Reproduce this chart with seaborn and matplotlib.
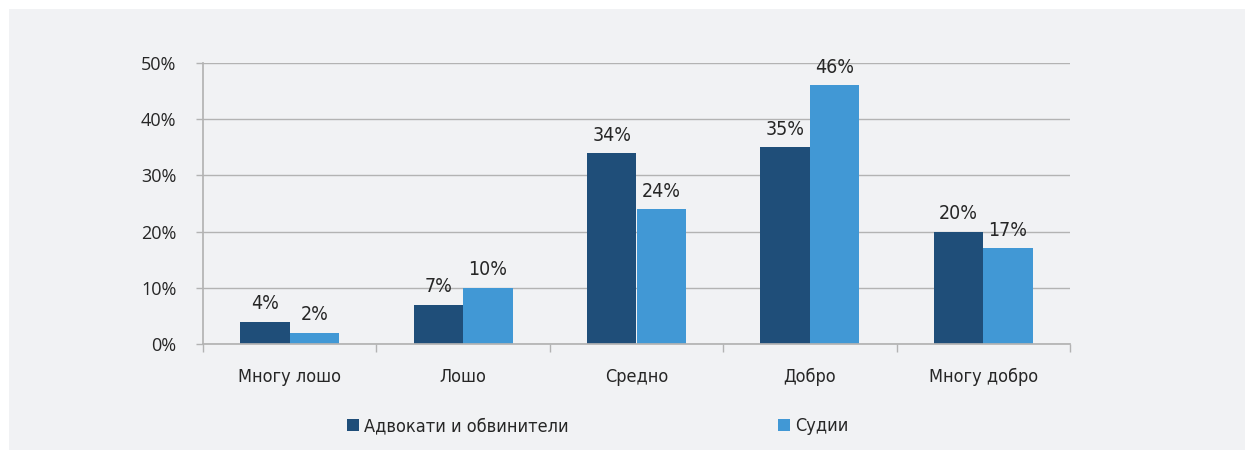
import matplotlib
matplotlib.use("Agg")
import matplotlib.pyplot as plt
from matplotlib import font_manager
from matplotlib.patches import Rectangle
import seaborn as sns
import pandas as pd

categories = ["Многу лошо", "Лошо", "Средно", "Добро", "Многу добро"]
series_names = ["Адвокати и обвинители", "Судии"]
lawyers = [4, 7, 34, 35, 20]
judges = [2, 10, 24, 46, 17]
y_ticks = [0, 10, 20, 30, 40, 50]
y_tick_labels = ["0%", "10%", "20%", "30%", "40%", "50%"]

colors = ["#1f4e79", "#4198d5"]
bg = "#f1f2f4"
grid_col = "#b3b3b3"
text_col = "#262626"


def _weight(f):
    w = f.weight
    if isinstance(w, str):
        w = {"light": 300, "normal": 400, "regular": 400, "book": 400,
             "medium": 500, "semibold": 600, "bold": 700}.get(w.lower(), 400)
    return w


# pick a regular-weight condensed face among the installed fonts
cond = [f for f in font_manager.fontManager.ttflist
        if (f.stretch in ("condensed", "semi-condensed", "extra-condensed")
            or "Condensed" in f.fname or "Narrow" in f.fname)
        and f.style == "normal"
        and "Bold" not in f.fname and "Light" not in f.fname
        and "Medium" not in f.fname and "Black" not in f.fname
        and "Thin" not in f.fname]
cond.sort(key=lambda f: abs(_weight(f) - 400))


def narrow_font(size):
    if cond:
        return font_manager.FontProperties(fname=cond[0].fname, size=size)
    return font_manager.FontProperties(family="DejaVu Sans", stretch="condensed", size=size)


label_font = narrow_font(14)
cat_font = narrow_font(13)

sns.set_theme(style="white")
plt.rcParams["font.family"] = ["Open Sans", "DejaVu Sans"]

df = pd.DataFrame({
    "cat": categories * 2,
    "val": lawyers + judges,
    "series": [series_names[0]] * len(categories) + [series_names[1]] * len(categories),
})

fig = plt.figure(figsize=(12.46, 4.5), dpi=100, facecolor="white")
fig.patches.append(Rectangle((9 / 1246, 0), 1 - 10 / 1246, 1 - 9 / 450,
                             transform=fig.transFigure, facecolor=bg,
                             edgecolor="none", zorder=-10))
ax = fig.add_axes([203 / 1246, 1 - 344 / 450, (1070 - 203) / 1246, (344 - 63) / 450])
ax.set_facecolor(bg)

sns.barplot(data=df, x="cat", y="val", hue="series", palette=colors,
            width=0.57, gap=0, ax=ax, saturation=1, edgecolor="none")

for cont in ax.containers:
    ax.bar_label(cont, labels=[f"{int(round(v))}%" for v in cont.datavalues],
                 padding=6, color=text_col, fontproperties=label_font)

ax.set_xlim(-0.5, len(categories) - 0.5)
ax.set_ylim(0, 50)
ax.set_yticks(y_ticks)
ax.set_yticklabels(y_tick_labels, fontsize=13, color=text_col)
ax.yaxis.grid(True, color=grid_col, linewidth=1)
ax.set_axisbelow(True)
ax.tick_params(axis="y", length=5, color=grid_col, width=1, pad=14, left=True)

ax.set_xticks(range(len(categories)))
ax.set_xticklabels(categories, color=text_col, fontproperties=cat_font)
ax.set_xticks([i - 0.5 for i in range(len(categories) + 1)], minor=True)
ax.tick_params(axis="x", which="major", length=0, pad=17)
ax.tick_params(axis="x", which="minor", length=6, color=grid_col, width=1, bottom=True)

for side in ["top", "right"]:
    ax.spines[side].set_visible(False)
ax.spines["left"].set_color(grid_col)
ax.spines["bottom"].set_color(grid_col)
ax.set_xlabel("")
ax.set_ylabel("")

handles, labels = ax.get_legend_handles_labels()
ax.get_legend().remove()
for h, lab, xpos in zip(handles, labels, [347, 778]):
    leg = fig.legend([h], [lab], loc="center left",
                     bbox_to_anchor=(xpos / 1246, 1 - 426 / 450),
                     frameon=False, borderpad=0, borderaxespad=0,
                     handlelength=0.65, handleheight=0.65, handletextpad=0.3,
                     prop=cat_font)
    for t in leg.get_texts():
        t.set_color(text_col)

fig.savefig("out.png", dpi=100, facecolor="white")
